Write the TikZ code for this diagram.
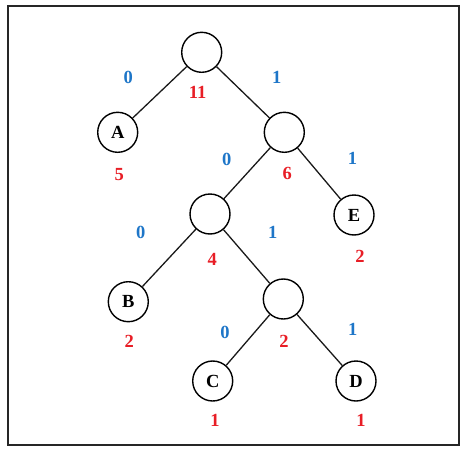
\documentclass[tikz,border=0pt]{standalone}
\usepackage{fontspec}
\setmainfont{Liberation Serif}
\definecolor{bitblue}{RGB}{30,118,200}
\definecolor{wred}{RGB}{232,30,38}
\begin{document}
\begin{tikzpicture}[x=1pt,y=-1pt,
  tnode/.style={circle,draw=black,line width=1.4pt,minimum size=40pt,inner sep=0pt,font=\fontsize{18.5}{18.5}\selectfont\bfseries},
  bit/.style={text=bitblue,font=\fontsize{18.5}{18.5}\selectfont\bfseries,inner sep=0pt},
  wt/.style={text=wred,font=\fontsize{18.5}{18.5}\selectfont\bfseries,inner sep=0pt},
  edge/.style={line width=1.3pt,black!90}]
\useasboundingbox (0,0) rectangle (461,463);
\draw[line width=1.4pt,black!85] (8,6) rectangle (459,445);
% nodes
\node[tnode] (r) at (201.7,52.3) {};
\node[tnode] (a) at (117.7,132.3) {A};
\node[tnode] (n6) at (284.3,132.3) {};
\node[tnode] (n4) at (210,214) {};
\node[tnode] (e) at (354,215) {E};
\node[tnode] (b) at (128.3,301.7) {B};
\node[tnode] (n2) at (283.3,299) {};
\node[tnode] (c) at (212.7,381) {C};
\node[tnode] (d) at (356,381) {D};
% edges
\draw[edge] (r) -- (a);
\draw[edge] (r) -- (n6);
\draw[edge] (n6) -- (n4);
\draw[edge] (n6) -- (e);
\draw[edge] (n4) -- (b);
\draw[edge] (n4) -- (n2);
\draw[edge] (n2) -- (c);
\draw[edge] (n2) -- (d);
% bits
\node[bit] (b1) at (128.3,77.3) {0};
\node[bit] (b2) at (276.7,77.3) {1};
\node[bit] (b3) at (226.7,159.3) {0};
\node[bit] (b4) at (352.5,158.5) {1};
\node[bit] (b5) at (140.7,232.3) {0};
\node[bit] (b6) at (272.7,232.3) {1};
\node[bit] (b7) at (225,332.7) {0};
\node[bit] (b8) at (352.7,329.3) {1};
% weights
\node[wt] (w1) at (197.7,92.3) {11};
\node[wt] (w2) at (119.3,175) {5};
\node[wt] (w3) at (287.3,173.3) {6};
\node[wt] (w4) at (212.3,259.3) {4};
\node[wt] (w5) at (360,256.7) {2};
\node[wt] (w6) at (129.3,341) {2};
\node[wt] (w7) at (284,341) {2};
\node[wt] (w8) at (215,420.7) {1};
\node[wt] (w9) at (361,420.7) {1};
\end{tikzpicture}
\end{document}
